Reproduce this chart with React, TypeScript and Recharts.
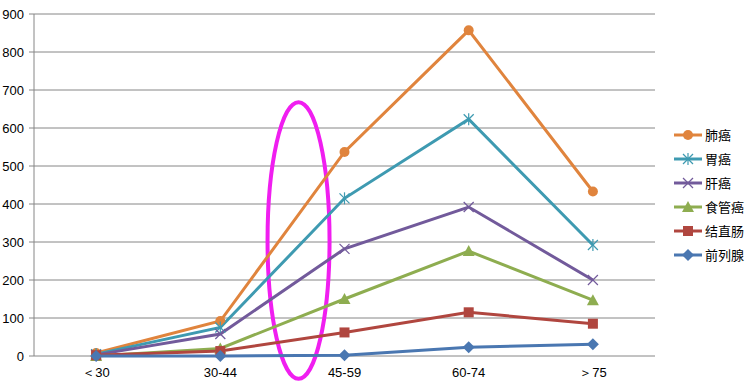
import React from "react";
import { CartesianGrid, Line, LineChart, ReferenceArea, XAxis, YAxis } from "recharts";

const categories = ["＜30", "30-44", "45-59", "60-74", "＞75"];
const lung = [8, 92, 537, 857, 433];
const stomach = [5, 75, 415, 623, 292];
const liver = [3, 58, 282, 392, 200];
const esophagus = [0, 20, 150, 276, 147];
const colorectal = [2, 13, 62, 115, 85];
const prostate = [0, 0, 2, 23, 31];
const yTicks = [0, 100, 200, 300, 400, 500, 600, 700, 800, 900];

const series = [
  { key: "肺癌", values: lung, color: "#E0843D", marker: "circle" },
  { key: "胃癌", values: stomach, color: "#3E9AB1", marker: "star" },
  { key: "肝癌", values: liver, color: "#725A9B", marker: "x" },
  { key: "食管癌", values: esophagus, color: "#8EAD50", marker: "triangle" },
  { key: "结直肠", values: colorectal, color: "#B0463F", marker: "square" },
  { key: "前列腺", values: prostate, color: "#4A77B1", marker: "diamond" },
];

const data = categories.map((c, i) => {
  const row: any = { name: c };
  series.forEach((s) => (row[s.key] = s.values[i]));
  return row;
});

const font = "'Liberation Sans', Arial, sans-serif";
const cjk = "'Noto Sans CJK SC', sans-serif";

function Marker({ type, x, y, color }: { type: string; x: number; y: number; color: string }) {
  switch (type) {
    case "circle":
      return <circle cx={x} cy={y} r={5} fill={color} />;
    case "star":
      return (
        <g stroke={color} strokeWidth={1.2}>
          <line x1={x - 5} y1={y - 5} x2={x + 5} y2={y + 5} />
          <line x1={x - 5} y1={y + 5} x2={x + 5} y2={y - 5} />
          <line x1={x} y1={y - 6} x2={x} y2={y + 6} />
        </g>
      );
    case "x":
      return (
        <g stroke={color} strokeWidth={1.2}>
          <line x1={x - 5} y1={y - 5} x2={x + 5} y2={y + 5} />
          <line x1={x - 5} y1={y + 5} x2={x + 5} y2={y - 5} />
        </g>
      );
    case "triangle":
      return <polygon points={`${x},${y - 6} ${x + 6},${y + 5} ${x - 6},${y + 5}`} fill={color} />;
    case "square":
      return <rect x={x - 5} y={y - 5} width={10} height={10} fill={color} />;
    default:
      return <polygon points={`${x},${y - 6} ${x + 6},${y} ${x},${y + 6} ${x - 6},${y}`} fill={color} />;
  }
}

function LegendBox() {
  return (
    <svg width={73} height={150} style={{ position: "absolute", left: 672, top: 124 }}>
      {series.map((s, i) => {
        const y = 11 + i * 24;
        return (
          <g key={s.key}>
            <line x1={2} y1={y} x2={30} y2={y} stroke={s.color} strokeWidth={3} />
            <Marker type={s.marker} x={16} y={y} color={s.color} />
            <text x={33} y={y + 5} fontSize={13} fontFamily={cjk} fill="#000">
              {s.key}
            </text>
          </g>
        );
      })}
    </svg>
  );
}

export default function App() {
  return (
    <div style={{ position: "absolute", left: 0, top: 0, width: 745, height: 385, background: "#fff" }}>
      <LineChart width={745} height={385} data={data} margin={{ top: 14, right: 90, bottom: 0, left: 0 }}>
        <CartesianGrid vertical={false} stroke="#868686" strokeWidth={1} />
        <XAxis
          xAxisId="edges"
          type="number"
          domain={[0, 5]}
          ticks={[0, 1, 2, 3, 4, 5]}
          height={0}
          tick={false}
          tickSize={5}
          stroke="#868686"
          allowDataOverflow
        />
        <XAxis
          dataKey="name"
          scale="band"
          height={29}
          axisLine={false}
          tickLine={false}
          tick={{ fill: "#000", fontSize: 13, fontFamily: font }}
          tickMargin={6}
        />
        <YAxis
          width={34}
          domain={[0, 900]}
          ticks={yTicks}
          tickSize={5}
          tickMargin={5}
          stroke="#868686"
          tick={{ fill: "#000", fontSize: 13, fontFamily: font }}
        />
        {series.map((s) => (
          <Line
            key={s.key}
            dataKey={s.key}
            stroke={s.color}
            strokeWidth={3}
            isAnimationActive={false}
            dot={(p: any) => <Marker key={`${s.key}-${p.index}`} type={s.marker} x={p.cx} y={p.cy} color={s.color} />}
            activeDot={false}
          />
        ))}
        <ReferenceArea
          x1="30-44"
          x2="45-59"
          y1={-60}
          y2={668}
          ifOverflow="visible"
          shape={(p: any) => (
            <ellipse
              cx={p.x + p.width * 0.565}
              cy={p.y + p.height / 2}
              rx={31}
              ry={p.height / 2}
              fill="none"
              stroke="#F01EF0"
              strokeWidth={4}
            />
          )}
        />
      </LineChart>
      <LegendBox />
    </div>
  );
}
